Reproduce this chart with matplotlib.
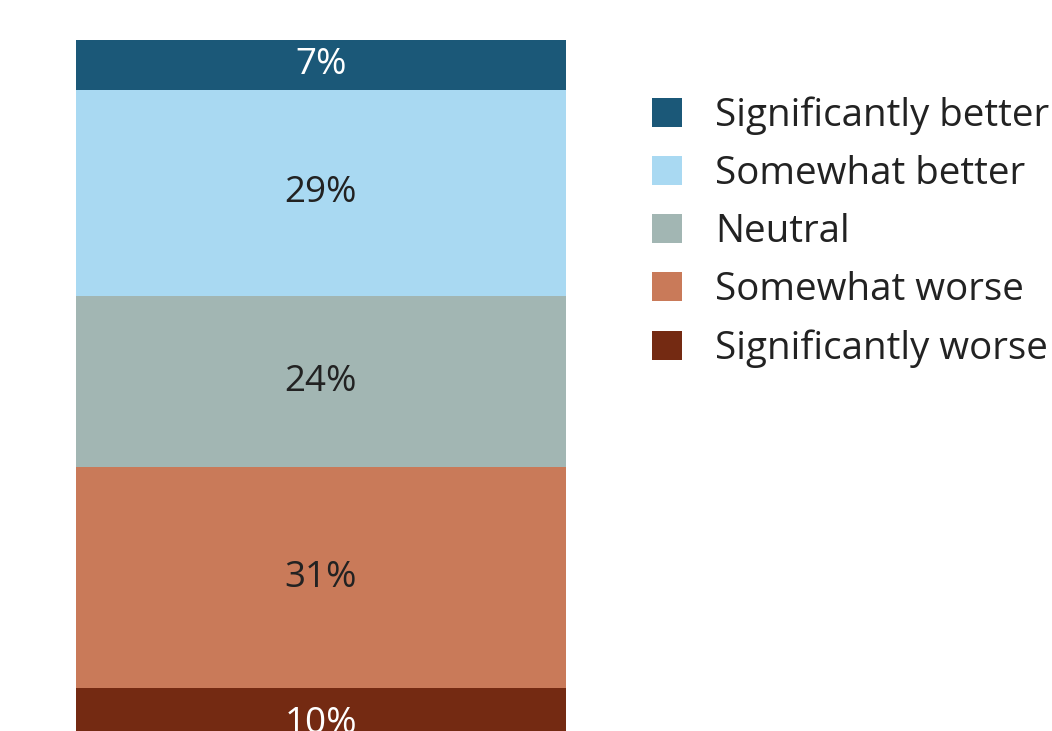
import matplotlib
matplotlib.use("Agg")
from matplotlib import pyplot as plt
from matplotlib.patches import Patch

# data, bottom to top of the stack
categories = ["Significantly worse", "Somewhat worse", "Neutral", "Somewhat better", "Significantly better"]
values = [10, 31, 24, 29, 7]
colors = ["#742a12", "#c97a59", "#a2b6b3", "#a9d9f2", "#1b5878"]
label_colors = ["white", "#222222", "#222222", "#222222", "white"]

plt.rcParams['font.family'] = ['Open Sans', 'DejaVu Sans']

fig = plt.figure(figsize=(10.52, 7.31), dpi=100)
ax = fig.add_axes([0, 0, 1, 1])

bottom = 0
for cat, val, col, lc in zip(categories, values, colors, label_colors):
    ax.bar(321, val, width=490, bottom=bottom, color=col, edgecolor='none')
    ymid = bottom + val / 2
    ax.text(321, ymid, f"{val}%", ha='center', va='center', fontsize=26.5, color=lc)
    bottom += val

ax.set_xlim(0, 1052)
ax.set_ylim(3.96, 106.6)
ax.axis('off')

handles = [Patch(facecolor=c, edgecolor='none') for c in colors[::-1]]
leg = ax.legend(handles, categories[::-1], loc='upper left', bbox_to_anchor=(0.62, 0.868),
                frameon=False, fontsize=27.7, handlelength=0.78, handleheight=0.78,
                handletextpad=0.85, labelspacing=0.52, borderaxespad=0, borderpad=0)
for t in leg.get_texts():
    t.set_color('#222222')

plt.savefig("out.png", dpi=100)
